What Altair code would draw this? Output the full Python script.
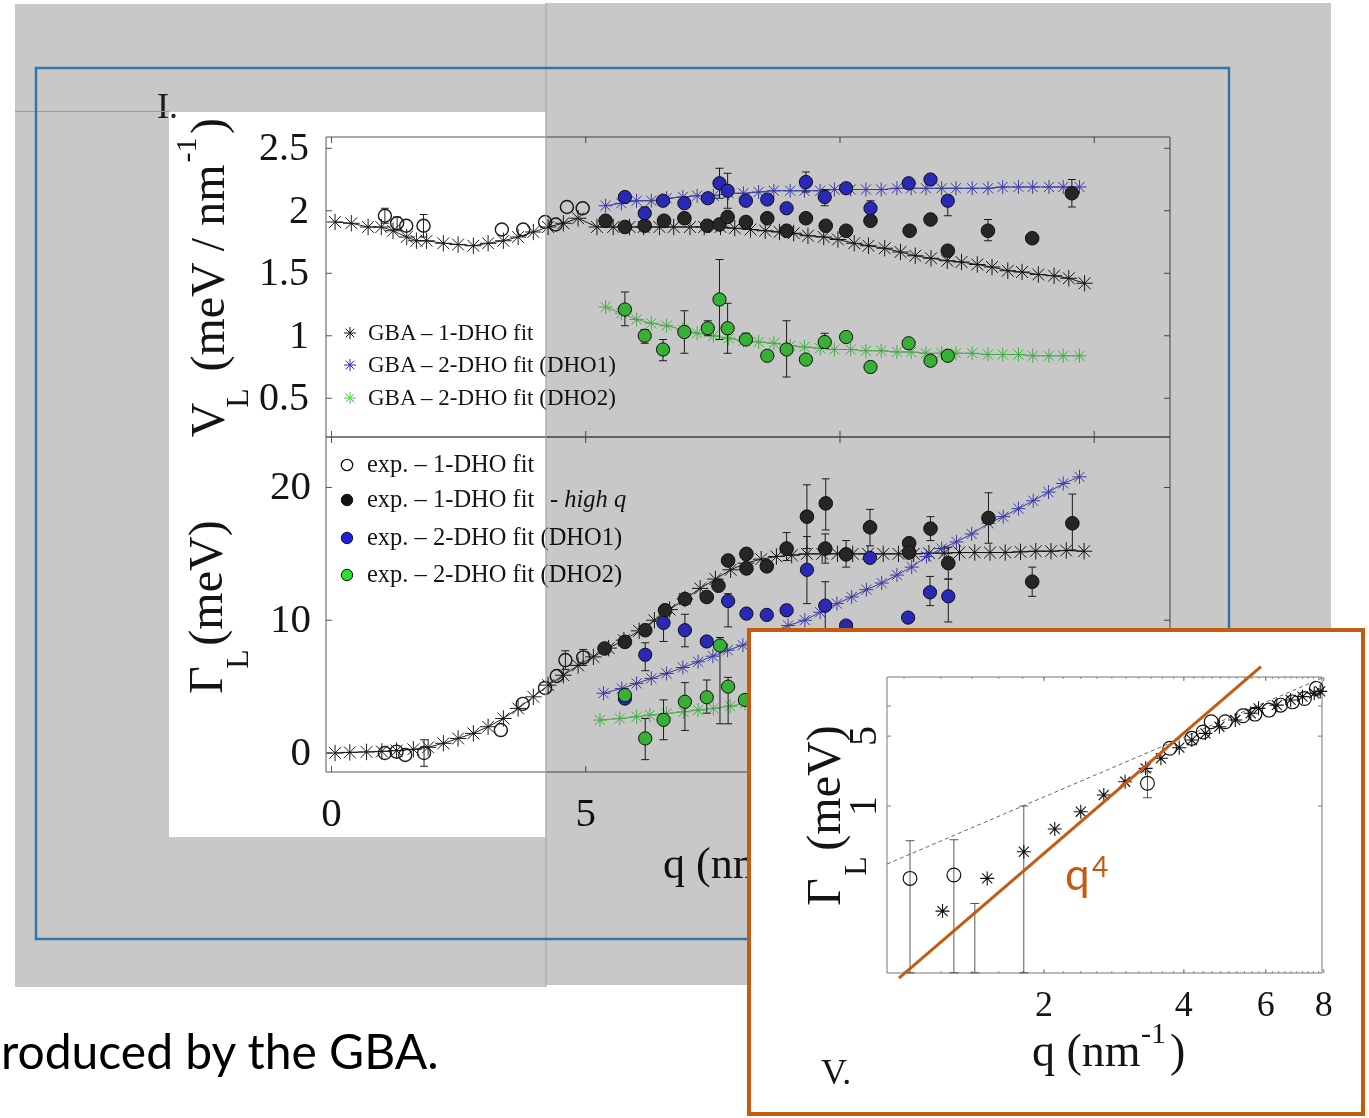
import altair as alt
import pandas as pd

SERIF = "Liberation Serif"
SANS = "Lato"
INK = "#141414"

# ======================= DATA =======================
# ---- upper panel: V_L (meV / nm^-1) vs q ----
up_gba1_q = [0.07, 0.39, 0.72, 0.98, 1.21, 1.48, 1.67, 1.87, 2.20, 2.49, 2.79, 3.08, 3.38, 3.67, 3.97, 4.26, 4.56, 4.85,
             5.22, 5.54, 5.86, 6.14, 6.45, 6.73, 7.05, 7.33, 7.65, 7.93, 8.24, 8.53, 8.81, 9.09, 9.37, 9.68, 9.96,
             10.28, 10.56, 10.88, 11.19, 11.48, 11.79, 12.11, 12.39, 12.70, 12.99, 13.30, 13.58, 13.90, 14.21, 14.50, 14.81]
up_gba1_v = [1.91, 1.90, 1.87, 1.87, 1.84, 1.79, 1.76, 1.76, 1.74, 1.73, 1.72, 1.74, 1.76, 1.79, 1.83, 1.87, 1.90, 1.94,
             1.87, 1.87, 1.87, 1.87, 1.87, 1.87, 1.87, 1.87, 1.87, 1.86, 1.85, 1.84, 1.83, 1.82, 1.80, 1.79, 1.77,
             1.74, 1.72, 1.70, 1.67, 1.64, 1.62, 1.60, 1.59, 1.57, 1.55, 1.52, 1.51, 1.49, 1.48, 1.46, 1.42]
up_gba2_q = [5.39, 5.70, 6.00, 6.29, 6.59, 6.91, 7.19, 7.51, 7.81, 8.10, 8.40, 8.70, 9.02, 9.30, 9.61, 9.89,
             10.21, 10.51, 10.81, 11.12, 11.40, 11.69, 12.00, 12.28, 12.60, 12.91, 13.20, 13.51, 13.79, 14.11, 14.39, 14.71]
up_gba2_dho1 = [2.04, 2.06, 2.08, 2.08, 2.10, 2.11, 2.12, 2.12, 2.14, 2.14, 2.15, 2.16, 2.16, 2.16, 2.16, 2.17,
                2.17, 2.17, 2.17, 2.18, 2.18, 2.18, 2.18, 2.18, 2.18, 2.18, 2.19, 2.19, 2.19, 2.19, 2.19, 2.19]
up_gba2_dho2 = [1.23, 1.18, 1.13, 1.10, 1.08, 1.05, 1.02, 1.00, 0.98, 0.96, 0.95, 0.94, 0.92, 0.91, 0.90, 0.89,
                0.89, 0.88, 0.88, 0.87, 0.87, 0.86, 0.86, 0.86, 0.86, 0.85, 0.85, 0.85, 0.84, 0.84, 0.84, 0.84]
up_open_q = [1.05, 1.29, 1.47, 1.81, 3.35, 3.77, 4.20, 4.41, 4.63, 4.94]
up_open_v = [1.96, 1.90, 1.88, 1.88, 1.85, 1.85, 1.91, 1.89, 2.03, 2.02]
up_open_err_q = [1.05, 1.29, 1.81]
up_open_err_lo = [1.90, 1.85, 1.79]
up_open_err_hi = [2.02, 1.95, 1.97]
up_black_q = [5.39, 5.77, 6.16, 6.54, 6.94, 7.39, 7.63, 7.79, 8.15, 8.57, 8.95, 9.33, 9.72, 10.12, 10.60,
              11.37, 11.78, 12.12, 12.91, 13.78, 14.56]
up_black_v = [1.92, 1.87, 1.88, 1.92, 1.94, 1.88, 1.89, 1.95, 1.91, 1.94, 1.84, 1.94, 1.88, 1.84, 1.92,
              1.84, 1.93, 1.68, 1.84, 1.78, 2.14]
up_black_err_q = [5.77, 12.12, 12.91, 13.78, 14.56]
up_black_err_lo = [1.84, 1.64, 1.76, 1.75, 2.03]
up_black_err_hi = [1.90, 1.72, 1.93, 1.81, 2.25]
up_2dho_q = [5.77, 6.16, 6.52, 6.94, 7.40, 7.63, 7.79, 8.15, 8.57, 8.95, 9.33, 9.70, 10.12, 10.60, 11.35, 11.78, 12.12]
up_blue_v = [2.11, 1.98, 2.08, 2.06, 2.10, 2.22, 2.16, 2.08, 2.09, 2.02, 2.23, 2.11, 2.18, 2.02, 2.22, 2.25, 2.08]
up_green_v = [1.21, 1.00, 0.89, 1.03, 1.06, 1.29, 1.06, 0.97, 0.84, 0.89, 0.81, 0.95, 0.99, 0.75, 0.94, 0.80, 0.84]
up_blue_err_q = [6.16, 7.63, 7.79, 9.33, 9.70, 10.60, 12.12]
up_blue_err_lo = [1.94, 2.10, 2.02, 2.15, 2.04, 1.96, 1.96]
up_blue_err_hi = [2.03, 2.34, 2.30, 2.31, 2.17, 2.08, 2.12]
up_green_err_q = [5.77, 6.16, 6.52, 6.94, 7.40, 7.63, 7.79, 8.15, 8.95, 9.70]
up_green_err_lo = [1.08, 0.94, 0.80, 0.86, 1.00, 0.97, 0.86, 0.93, 0.67, 0.90]
up_green_err_hi = [1.35, 1.05, 0.97, 1.20, 1.12, 1.61, 1.26, 1.02, 1.12, 1.02]

# ---- lower panel: Gamma_L (meV) vs q ----
lo_gba1_q = [0.07, 0.36, 0.69, 0.99, 1.28, 1.61, 1.90, 2.20, 2.49, 2.79, 3.08, 3.38, 3.67, 3.97, 4.26, 4.56, 4.85, 5.15,
             5.45, 5.75, 6.05, 6.35, 6.65, 6.95, 7.25, 7.55, 7.85, 8.15, 8.45, 8.75, 9.05, 9.35, 9.65, 9.95,
             10.25, 10.55, 10.85, 11.15, 11.45, 11.75, 12.05, 12.35, 12.65, 12.95, 13.25, 13.55, 13.85, 14.15, 14.45, 14.80]
lo_gba1_g = [0.00, 0.05, 0.08, 0.12, 0.18, 0.28, 0.43, 0.73, 1.10, 1.48, 1.98, 2.60, 3.36, 4.23, 5.11, 5.86, 6.60, 7.24,
             7.90, 8.50, 9.20, 10.00, 10.80, 11.60, 12.40, 13.10, 13.80, 14.30, 14.60, 14.80, 14.90, 15.00, 15.00, 15.00,
             15.00, 15.00, 15.00, 15.00, 15.00, 15.05, 15.05, 15.10, 15.10, 15.10, 15.10, 15.15, 15.20, 15.20, 15.25, 15.20]
lo_dho1_q = [5.35, 5.71, 6.00, 6.29, 6.59, 6.91, 7.21, 7.50, 7.79, 8.09, 8.98, 9.31, 9.61, 9.94, 10.23,
             10.52, 10.82, 11.12, 11.41, 11.70, 12.00, 12.29, 12.59, 12.92, 13.21, 13.51, 13.80, 14.10, 14.39, 14.71]
lo_dho1_g = [4.50, 4.86, 5.24, 5.62, 5.99, 6.44, 6.87, 7.29, 7.74, 8.12, 9.60, 10.00, 10.60, 11.25, 11.75,
             12.30, 12.80, 13.40, 14.00, 14.80, 15.40, 15.90, 16.50, 17.30, 17.80, 18.40, 19.00, 19.65, 20.30, 20.80]
lo_dho2_q = [5.28, 5.67, 6.00, 6.26, 6.59, 6.92, 7.21, 7.51, 7.84, 8.13]
lo_dho2_g = [2.48, 2.60, 2.73, 2.86, 2.98, 3.10, 3.23, 3.36, 3.53, 3.74]
lo_open_q = [1.05, 1.28, 1.45, 1.82, 3.33, 3.76, 4.20, 4.43, 4.60, 4.95]
lo_open_g = [0.00, 0.10, -0.15, 0.00, 1.73, 3.70, 4.90, 5.80, 7.00, 7.20]
lo_open_err_q = [1.82, 4.60, 4.95]
lo_open_err_lo = [-1.0, 6.3, 6.6]
lo_open_err_hi = [1.0, 7.7, 7.8]
lo_black_q = [5.37, 5.77, 6.17, 6.56, 6.95, 7.38, 7.61, 7.80, 8.16, 8.16, 8.56, 8.95, 9.35, 9.72, 9.71, 10.12,
              10.59, 11.36, 11.36, 11.78, 12.13, 12.92, 13.78, 14.57]
lo_black_g = [7.87, 8.37, 9.25, 10.75, 11.60, 11.75, 12.60, 14.50, 15.00, 13.90, 14.06, 15.40, 17.80, 18.80, 15.40, 14.96,
              17.00, 15.80, 15.10, 16.90, 14.30, 17.70, 12.90, 17.30]
lo_black_err_q = [8.95, 9.35, 9.72, 9.71, 10.12, 10.59, 11.78, 12.13, 12.92, 13.78, 14.57]
lo_black_err_lo = [14.5, 15.4, 16.8, 14.3, 14.0, 15.6, 16.0, 13.1, 15.8, 11.8, 15.3]
lo_black_err_hi = [16.6, 20.2, 20.65, 16.5, 16.0, 18.35, 17.8, 15.5, 19.6, 14.0, 19.5]
lo_blue_q = [5.77, 6.17, 6.53, 6.95, 7.38, 7.80, 8.16, 8.56, 8.95, 9.35, 9.71, 10.12, 10.59, 11.34, 11.77, 12.13]
lo_blue_g = [4.10, 7.40, 9.80, 9.25, 8.40, 11.45, 10.50, 10.40, 10.75, 13.80, 11.10, 9.60, 14.70, 10.20, 12.10, 11.80]
lo_blue_err_q = [6.17, 6.53, 6.95, 7.80, 9.35, 9.71, 11.77, 12.13]
lo_blue_err_lo = [6.2, 8.4, 8.0, 9.5, 11.25, 9.3, 11.1, 9.87]
lo_blue_err_hi = [8.3, 10.45, 10.45, 12.0, 16.3, 12.9, 13.3, 13.1]
lo_green_q = [5.77, 6.17, 6.53, 6.95, 7.38, 7.64, 7.80, 8.13]
lo_green_g = [4.36, 1.10, 2.50, 3.86, 4.20, 8.10, 5.00, 4.00]
lo_green_err_q = [6.17, 6.53, 6.95, 7.38, 7.64, 7.80]
lo_green_err_lo = [-0.5, 1.0, 1.7, 3.0, 2.2, 2.2]
lo_green_err_hi = [2.6, 4.0, 5.3, 5.5, 8.7, 5.7]

# ---- inset: log-log Gamma_L vs q ----
in_open_q = [1.03, 1.28, 3.34, 3.73, 4.16, 4.40, 4.58, 4.91, 5.36, 5.69, 6.10, 6.46, 6.85, 7.27, 7.71]
in_open_g = [0.189, 0.204, 1.69, 3.78, 4.75, 5.50, 6.97, 6.97, 8.0, 8.3, 9.1, 10.2, 11.0, 11.9, 15.0]
in_err_q = [1.03, 1.28, 1.42, 1.81, 3.34]
in_err_lo = [0.0215, 0.0215, 0.0215, 0.0215, 1.21]
in_err_hi = [0.45, 0.46, 0.106, 1.0, 2.2]
in_star_q = [1.21, 1.51, 1.81, 2.11, 2.40, 2.69, 2.99, 3.31, 3.57, 3.91, 4.16, 4.45, 4.77, 5.16, 5.57, 5.79,
             6.34, 6.79, 7.20, 7.63, 7.86]
in_star_g = [0.089, 0.189, 0.349, 0.589, 0.877, 1.29, 1.75, 2.38, 3.0, 3.83, 4.57, 5.33, 6.21, 7.24, 8.45, 9.48,
             10.2, 11.5, 12.4, 13.4, 14.0]
q4_q = [0.975, 5.86]
q4_g = [0.019, 24.7]
q2_q = [0.919, 7.93]
q2_g = [0.263, 19.0]

# ---- labels ----
up_legend = ["GBA \u2013 1-DHO fit", "GBA \u2013 2-DHO fit (DHO1)", "GBA \u2013 2-DHO fit (DHO2)"]
lo_legend = ["exp. \u2013 1-DHO fit", "exp. \u2013 1-DHO fit", "exp. \u2013 2-DHO fit (DHO1)", "exp. \u2013 2-DHO fit (DHO2)"]
up_yticks = [0.5, 1, 1.5, 2, 2.5]
up_ytick_labels = ["0.5", "1", "1.5", "2", "2.5"]
lo_yticks = [0, 10, 20]
lo_ytick_labels = ["0", "10", "20"]
main_xticks = [0, 5, 10, 15]
main_xtick_labels = ["0", "5", "10", "15"]
in_xticks = [2, 4, 6, 8]
in_xtick_labels = ["2", "4", "6", "8"]
in_yticks = [1, 5]
in_ytick_labels = ["1", "5"]
in_minor_x = [round(1.0 + 0.2 * i, 1) for i in range(35)]

# ======================= SCALES =======================
X_MAIN = alt.Scale(domain=[-0.108, 16.49], range=[326, 1170], nice=False, zero=False)
Y_UP = alt.Scale(domain=[0.19, 2.59], range=[437, 137], nice=False, zero=False)
Y_LO = alt.Scale(domain=[-1.43, 23.8], range=[772, 437], nice=False, zero=False)
X_IN = alt.Scale(type="log", domain=[0.919, 7.93], range=[887, 1322], nice=False)
Y_IN = alt.Scale(type="log", domain=[0.0214, 19.5], range=[973, 677], nice=False)

STAR = "M0,-1L0,1M-1,0L1,0M-0.72,-0.72L0.72,0.72M-0.72,0.72L0.72,-0.72"
CAP = "M-1,0L1,0"
T_DOWN, T_UP, T_RIGHT, T_LEFT = "M0,0L0,1", "M0,0L0,-1", "M0,0L1,0", "M0,0L-1,0"

BLUE_DOT, GREEN_DOT = "#3434ea", "#44e244"
BLUE_STAR, GREEN_STAR = "#4a4ad6", "#58dc58"


def X(f, sc):
    return alt.X(f"{f}:Q", scale=sc, axis=None)


def Y(f, sc):
    return alt.Y(f"{f}:Q", scale=sc, axis=None)


def line(q, v, xs, ys, color, width=1.0, dash=None):
    kw = dict(color=color, strokeWidth=width)
    if dash:
        kw["strokeDash"] = dash
    return alt.Chart(pd.DataFrame({"q": q, "v": v})).mark_line(**kw).encode(x=X("q", xs), y=Y("v", ys))


def pts(q, v, xs, ys, shape, size, fill=None, stroke="black", sw=1.0):
    kw = dict(shape=shape, size=size, stroke=stroke, strokeWidth=sw, opacity=1)
    if fill:
        kw.update(filled=True, fill=fill)
    else:
        kw.update(filled=False)
    return alt.Chart(pd.DataFrame({"q": q, "v": v})).mark_point(**kw).encode(x=X("q", xs), y=Y("v", ys))


def errs(q, lo, hi, xs, ys, color="#222222", sw=1.0, cap=64):
    d = pd.DataFrame({"q": q, "lo": lo, "hi": hi})
    rule = alt.Chart(d).mark_rule(color=color, strokeWidth=sw).encode(
        x=X("q", xs), y=Y("lo", ys), y2=alt.Y2("hi"))
    ends = alt.Chart(d).transform_fold(["lo", "hi"], as_=["end", "val"]).mark_point(
        shape=CAP, size=cap, filled=False, stroke=color, strokeWidth=sw, opacity=1).encode(
        x=X("q", xs), y=Y("val", ys))
    return [rule, ends]


def frame(xs, ys, xd, yd, color="#555555", sw=1.0):
    d = pd.DataFrame({"x0": [xd[0]], "x1": [xd[1]], "y0": [yd[0]], "y1": [yd[1]]})
    return alt.Chart(d).mark_rect(fill="transparent", stroke=color, strokeWidth=sw).encode(
        x=X("x0", xs), x2=alt.X2("x1"), y=Y("y0", ys), y2=alt.Y2("y1"))


def xticks(vals, xs, ys, ytop, ybot, size=144, color="#555555"):
    d = pd.DataFrame({"q": vals, "top": [ytop] * len(vals), "bot": [ybot] * len(vals)})
    a = alt.Chart(d).mark_point(shape=T_DOWN, size=size, filled=False, stroke=color, strokeWidth=1, opacity=1).encode(
        x=X("q", xs), y=Y("top", ys))
    b = alt.Chart(d).mark_point(shape=T_UP, size=size, filled=False, stroke=color, strokeWidth=1, opacity=1).encode(
        x=X("q", xs), y=Y("bot", ys))
    return [a, b]


def yticks(vals, xs, ys, xl, xr, size=144, color="#555555"):
    d = pd.DataFrame({"v": vals, "l": [xl] * len(vals), "r": [xr] * len(vals)})
    a = alt.Chart(d).mark_point(shape=T_RIGHT, size=size, filled=False, stroke=color, strokeWidth=1, opacity=1).encode(
        x=X("l", xs), y=Y("v", ys))
    b = alt.Chart(d).mark_point(shape=T_LEFT, size=size, filled=False, stroke=color, strokeWidth=1, opacity=1).encode(
        x=X("r", xs), y=Y("v", ys))
    return [a, b]


def txt(s, x, y, size, font=SERIF, color=INK, align="left", baseline="alphabetic", angle=0, style="normal"):
    kw = dict(text=s, font=font, fontSize=size, color=color, align=align, baseline=baseline, fontStyle=style)
    if angle:
        kw["angle"] = angle
    return alt.Chart().mark_text(**kw).encode(x=alt.value(x), y=alt.value(y))


def sym(x, y, shape, size, fill=None, stroke="black", sw=1.0):
    kw = dict(shape=shape, size=size, stroke=stroke, strokeWidth=sw, opacity=1)
    if fill:
        kw.update(filled=True, fill=fill)
    else:
        kw.update(filled=False)
    return alt.Chart().mark_point(**kw).encode(x=alt.value(x), y=alt.value(y))


def box(x0, y0, x1, y1, fill="transparent", stroke=None, sw=0, blend=None):
    kw = dict(fill=fill)
    if stroke:
        kw.update(stroke=stroke, strokeWidth=sw)
    else:
        kw.update(strokeWidth=0)
    if blend:
        kw["blend"] = blend
    return alt.Chart().mark_rect(**kw).encode(x=alt.value(x0), x2=alt.value(x1), y=alt.value(y0), y2=alt.value(y1))


def hrule(x0, x1, y, color, sw):
    return alt.Chart().mark_rule(color=color, strokeWidth=sw).encode(x=alt.value(x0), x2=alt.value(x1), y=alt.value(y))


def vrule(x, y0, y1, color, sw):
    return alt.Chart().mark_rule(color=color, strokeWidth=sw).encode(x=alt.value(x), y=alt.value(y0), y2=alt.value(y1))


# ======================= UPPER PANEL =======================
xd, ydu = [-0.108, 16.49], [0.19, 2.59]
upper_layers = [frame(X_MAIN, Y_UP, xd, ydu)]
upper_layers += xticks(main_xticks, X_MAIN, Y_UP, ydu[1], ydu[0])
upper_layers += yticks(up_yticks, X_MAIN, Y_UP, xd[0], xd[1])
upper_layers += [
    line(up_gba1_q, up_gba1_v, X_MAIN, Y_UP, "#222222", 1.0),
    pts(up_gba1_q, up_gba1_v, X_MAIN, Y_UP, STAR, 270, stroke="#1a1a1a", sw=1.0),
    line(up_gba2_q, up_gba2_dho1, X_MAIN, Y_UP, BLUE_STAR, 1.0),
    pts(up_gba2_q, up_gba2_dho1, X_MAIN, Y_UP, STAR, 196, stroke=BLUE_STAR, sw=1.0),
    line(up_gba2_q, up_gba2_dho2, X_MAIN, Y_UP, GREEN_STAR, 1.0),
    pts(up_gba2_q, up_gba2_dho2, X_MAIN, Y_UP, STAR, 196, stroke=GREEN_STAR, sw=1.0),
]
upper_layers += errs(up_open_err_q, up_open_err_lo, up_open_err_hi, X_MAIN, Y_UP)
upper_layers += errs(up_black_err_q, up_black_err_lo, up_black_err_hi, X_MAIN, Y_UP)
upper_layers += errs(up_blue_err_q, up_blue_err_lo, up_blue_err_hi, X_MAIN, Y_UP)
upper_layers += errs(up_green_err_q, up_green_err_lo, up_green_err_hi, X_MAIN, Y_UP)
upper_layers += [
    pts(up_open_q, up_open_v, X_MAIN, Y_UP, "circle", 170, stroke="#1a1a1a", sw=1.4),
    pts(up_black_q, up_black_v, X_MAIN, Y_UP, "circle", 185, fill="#303030", stroke="#111111"),
    pts(up_2dho_q, up_blue_v, X_MAIN, Y_UP, "circle", 175, fill=BLUE_DOT, stroke="#111111"),
    pts(up_2dho_q, up_green_v, X_MAIN, Y_UP, "circle", 175, fill=GREEN_DOT, stroke="#111111"),
    alt.Chart(pd.DataFrame({"v": up_yticks, "t": up_ytick_labels})).mark_text(
        align="right", baseline="middle", font=SERIF, fontSize=40, color=INK).encode(
        x=alt.value(309), y=Y("v", Y_UP), text="t:N"),
]
upper = alt.layer(*upper_layers)

# ======================= LOWER PANEL =======================
ydl = [-1.43, 23.8]
lower_layers = [frame(X_MAIN, Y_LO, xd, ydl)]
lower_layers += xticks(main_xticks, X_MAIN, Y_LO, ydl[1], ydl[0])
lower_layers += yticks(lo_yticks, X_MAIN, Y_LO, xd[0], xd[1])
lower_layers += [
    line(lo_gba1_q, lo_gba1_g, X_MAIN, Y_LO, "#222222", 1.0),
    pts(lo_gba1_q, lo_gba1_g, X_MAIN, Y_LO, STAR, 270, stroke="#1a1a1a", sw=1.0),
    line(lo_dho1_q, lo_dho1_g, X_MAIN, Y_LO, BLUE_STAR, 1.0),
    pts(lo_dho1_q, lo_dho1_g, X_MAIN, Y_LO, STAR, 196, stroke=BLUE_STAR, sw=1.0),
    line(lo_dho2_q, lo_dho2_g, X_MAIN, Y_LO, GREEN_STAR, 1.0),
    pts(lo_dho2_q, lo_dho2_g, X_MAIN, Y_LO, STAR, 196, stroke=GREEN_STAR, sw=1.0),
]
lower_layers += errs(lo_open_err_q, lo_open_err_lo, lo_open_err_hi, X_MAIN, Y_LO)
lower_layers += errs(lo_black_err_q, lo_black_err_lo, lo_black_err_hi, X_MAIN, Y_LO)
lower_layers += errs(lo_blue_err_q, lo_blue_err_lo, lo_blue_err_hi, X_MAIN, Y_LO)
lower_layers += errs(lo_green_err_q, lo_green_err_lo, lo_green_err_hi, X_MAIN, Y_LO)
lower_layers += [
    pts(lo_open_q, lo_open_g, X_MAIN, Y_LO, "circle", 170, stroke="#1a1a1a", sw=1.4),
    pts(lo_black_q, lo_black_g, X_MAIN, Y_LO, "circle", 185, fill="#303030", stroke="#111111"),
    pts(lo_blue_q, lo_blue_g, X_MAIN, Y_LO, "circle", 175, fill=BLUE_DOT, stroke="#111111"),
    pts(lo_green_q, lo_green_g, X_MAIN, Y_LO, "circle", 175, fill=GREEN_DOT, stroke="#111111"),
    alt.Chart(pd.DataFrame({"v": lo_yticks, "t": lo_ytick_labels})).mark_text(
        align="right", baseline="middle", font=SERIF, fontSize=41, color=INK).encode(
        x=alt.value(311), y=Y("v", Y_LO), text="t:N"),
    alt.Chart(pd.DataFrame({"q": main_xticks, "t": main_xtick_labels})).mark_text(
        align="center", baseline="middle", font=SERIF, fontSize=41, color=INK).encode(
        x=X("q", X_MAIN), y=alt.value(814), text="t:N"),
]
lower = alt.layer(*lower_layers)

# ======================= LEGENDS & TITLES (main figure) =======================
legend_layers = [
    sym(350, 333, STAR, 144, stroke="#111111"),
    sym(350, 365, STAR, 144, stroke="#2626dc"),
    sym(350, 398, STAR, 144, stroke="#3ad83a"),
    txt(up_legend[0], 368, 333, 23, baseline="middle"),
    txt(up_legend[1], 368, 365, 23, baseline="middle"),
    txt(up_legend[2], 368, 398, 23, baseline="middle"),
    sym(347, 465, "circle", 130, stroke="#111111", sw=1.3),
    sym(347, 500, "circle", 130, fill="#111111", stroke="#111111"),
    sym(347, 538, "circle", 130, fill="#1f1fe6", stroke="#111111"),
    sym(347, 575, "circle", 130, fill="#2ee02e", stroke="#111111"),
    txt(lo_legend[0], 367, 465, 24.5, baseline="middle"),
    txt(lo_legend[1], 367, 500, 24.5, baseline="middle"),
    txt("- high q", 550, 500, 24.5, baseline="middle", style="italic"),
    txt(lo_legend[2], 367, 538, 24.5, baseline="middle"),
    txt(lo_legend[3], 367, 575, 24.5, baseline="middle"),
    # y titles (rotated)
    txt("V", 224, 420, 48, align="center", angle=270),
    txt("L", 248, 398, 32, align="center", angle=270),
    txt("(meV / nm", 224, 268, 48, align="center", angle=270),
    txt("-1", 196, 150, 30, align="center", angle=270),
    txt(")", 224, 126, 48, align="center", angle=270),
    txt("\u0393", 222, 680, 48, align="center", angle=270),
    txt("L", 248, 659, 32, align="center", angle=270),
    txt("(meV)", 222, 583, 48, align="center", angle=270),
    # x title (mostly hidden by the inset)
    txt("q (nm", 663, 878, 44),
    txt("-1", 768, 858, 30),
    txt(")", 792, 878, 44),
    txt("I.", 157, 118, 36, color="#222222"),
]

# ======================= SLIDE OVERLAYS =======================
overlay_layers = [
    box(545.5, 3, 1331, 985, fill="#c8c8c8", blend="multiply"),
    box(15, 4, 545.5, 112, fill="#c8c8c8", blend="multiply"),
    box(15, 112, 169, 987, fill="#c8c8c8", blend="multiply"),
    box(169, 837, 545.5, 987, fill="#c8c8c8", blend="multiply"),
    hrule(15, 169, 111.5, "#9a9a9a", 1),
    vrule(546, 3, 987, "#a4a4a4", 1),
    box(36, 68, 1229, 939, fill="transparent", stroke="#3673a6", sw=2.5),
]

# ======================= INSET =======================
inset_layers = [
    box(749, 630, 1363, 1114, fill="white", stroke="#c55a11", sw=4),
    frame(X_IN, Y_IN, [0.919, 7.93], [0.0214, 19.5], color="#777777", sw=1),
]
inset_layers += xticks(in_minor_x, X_IN, Y_IN, 19.5, 0.0214, size=16, color="#888888")
inset_layers += xticks(in_xticks, X_IN, Y_IN, 19.5, 0.0214, size=64, color="#777777")
inset_layers += yticks([1, 5, 10], X_IN, Y_IN, 0.919, 7.93, size=64, color="#777777")
inset_layers += [
    line(q2_q, q2_g, X_IN, Y_IN, "#555555", 0.9, dash=[4, 3]),
]
inset_layers += errs(in_err_q, in_err_lo, in_err_hi, X_IN, Y_IN, color="#444444", sw=0.9, cap=81)
inset_layers += [
    pts(in_star_q, in_star_g, X_IN, Y_IN, STAR, 196, stroke="#111111", sw=1.1),
    pts(in_open_q, in_open_g, X_IN, Y_IN, "circle", 190, stroke="#111111", sw=1.2),
    line(q4_q, q4_g, X_IN, Y_IN, "#c55a11", 3.0),
    alt.Chart(pd.DataFrame({"q": in_xticks, "t": in_xtick_labels})).mark_text(
        align="center", baseline="middle", font=SERIF, fontSize=36, color=INK).encode(
        x=X("q", X_IN), y=alt.value(1005), text="t:N"),
    alt.Chart(pd.DataFrame({"g": in_yticks, "t": in_ytick_labels})).mark_text(
        align="center", baseline="middle", font=SERIF, fontSize=40, color=INK, angle=270).encode(
        x=alt.value(864), y=Y("g", Y_IN), text="t:N"),
]
inset_text = [
    txt("\u0393", 840, 892, 48, align="center", angle=270),
    txt("L", 866, 866, 32, align="center", angle=270),
    txt("(meV)", 840, 788, 48, align="center", angle=270),
    txt("q (nm", 1032, 1066, 46),
    txt("-1", 1141, 1043, 30),
    txt(")", 1170, 1066, 46),
    txt("V.", 821, 1084, 36),
    txt("q", 1065, 890, 44, font=SANS, color="#c55a11"),
    txt("4", 1092, 877, 28, font=SANS, color="#c55a11"),
    txt("roduced by the GBA.", 1, 1069, 48, font=SANS, color="#000000"),
]

chart = alt.layer(
    upper, lower, *legend_layers, *overlay_layers, alt.layer(*inset_layers), *inset_text
).resolve_scale(x="independent", y="independent").properties(
    width=1369, height=1118, padding=0,
    autosize=alt.AutoSizeParams(type="none"), background="white",
).configure_view(strokeWidth=0)

chart.save("out.html", embed_options={"renderer": "svg", "actions": False})
